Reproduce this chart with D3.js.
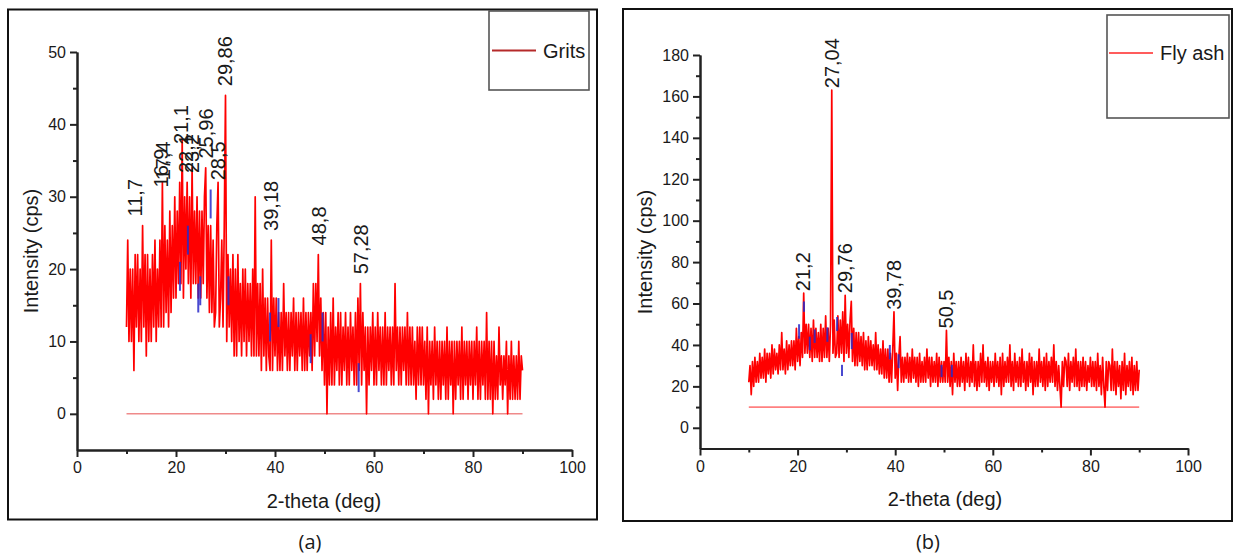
<!DOCTYPE html>
<html><head><meta charset="utf-8">
<script src="https://cdn.jsdelivr.net/npm/d3@7/dist/d3.min.js"></script>
<style>
body{margin:0;background:#fff}
svg{display:block}
text{font-family:"Liberation Sans",Arial,sans-serif;fill:#1a1a1a}
</style>
</head><body>
<svg id="c" width="1234" height="555"></svg>
<script>
// 2-theta scan grid (deg)
const thetaStart = 10, thetaStep = 0.25;

// Grits intensities (cps), read every 0.25 deg from 10 to 90
const gritsCounts = [
12,24,10,20, 10,20,6,22, 12,22,10,20, 10,26,12,22, 8,22,10,20,
10,22,12,24, 10,20,12,24, 12,32,12,26, 14,24,12,28, 14,26,16,30,
16,28,18,32, 18,38,16,30, 20,32,18,30, 16,34,18,28, 18,30,16,28,
16,28,18,30, 34,16,26,14, 26,14,24,12, 14,26,32,12, 16,24,12,26,
44,10,22,12, 20,10,22,8, 20,8,22,10, 18,8,20,10, 20,8,18,10,
18,8,20,8, 30,8,18,8, 18,6,20,8, 16,6,16,8, 6,24,6,16,
8,16,6,14, 6,14,6,18, 8,14,6,14, 6,14,8,16, 6,14,6,14,
8,14,6,16, 6,14,6,14, 8,14,6,18, 8,18,10,22, 8,16,6,14,
4,14,0,12, 4,14,4,16, 4,12,6,14, 4,14,4,12, 6,14,4,12,
4,14,6,12, 4,14,4,16, 6,18,4,14, 6,12,0,12, 4,12,6,14,
4,12,4,14, 6,12,4,12, 4,14,4,12, 6,12,4,12, 4,18,6,12,
4,12,4,12, 6,12,4,14, 4,12,4,12, 4,10,2,12, 4,12,4,12,
4,10,2,12, 0,10,4,10, 2,12,4,10, 2,10,2,10, 4,10,2,12,
2,10,4,10, 0,10,2,10, 4,10,2,12, 2,10,4,10, 2,10,4,10,
2,10,4,12, 2,10,2,10, 4,10,2,14, 2,10,2,10, 0,10,2,8,
2,12,4,8, 2,8,4,10, 0,8,2,10, 2,8,2,8, 2,10,2,8,
6
];

// Fly ash intensities (cps), read every 0.25 deg from 10 to 90
const flyAshCounts = [
22,30,16,32, 20,34,22,32, 22,36,24,34, 24,38,22,36, 26,36,24,40,
26,38,28,36, 26,40,28,46, 28,38,26,42, 28,40,30,42, 30,42,28,48,
32,44,30,46, 34,65,36,50, 36,50,34,48, 32,52,34,48, 34,46,32,50,
32,48,34,54, 34,48,32,50, 163,36,52,34, 36,54,34,52, 36,56,32,64,
36,50,34,52, 61,32,48,30, 46,30,46,32, 44,30,46,28, 42,28,44,30,
42,30,40,28, 46,28,40,26, 38,26,42,24, 38,24,38,22, 36,22,38,56,
24,36,18,34, 44,22,34,22, 34,24,36,22, 34,22,38,24, 34,22,34,20,
36,22,32,22, 34,22,38,24, 34,20,34,22, 32,22,36,20, 34,22,32,22,
32,22,47,22, 34,20,32,16, 36,22,32,20, 32,20,34,22, 32,18,36,22,
34,20,32,22, 40,20,32,18, 32,20,36,22, 40,22,32,20, 34,18,32,22,
32,20,36,22, 32,20,34,16, 36,20,32,22, 34,22,40,20, 32,18,36,22,
32,20,34,20, 38,22,32,18, 32,20,36,22, 34,16,32,20, 32,20,38,22,
32,20,34,18, 36,20,32,22, 34,22,40,20, 32,18,30,20, 10,32,20,34,
32,20,36,18, 32,22,34,20, 38,20,32,18, 32,20,34,20, 32,18,30,22,
34,20,32,20, 32,18,36,20, 30,16,34,20, 10,32,18,32, 30,18,38,18,
32,16,32,20, 30,14,32,18, 36,16,30,20, 32,18,34,16, 30,18,32,18,
28
];

// Labelled peaks
const gritsPeakPos = [11.7, 16.9, 17.4, 21.1, 22.1, 23.2, 25.96, 28.5, 29.86, 39.18, 48.8, 57.28];
const gritsPeakVal = [27, 31, 32, 37, 33, 33, 35, 32, 45, 25, 23, 19];
const gritsPeakLbl = ["11,7","16,9","17,4","21,1","22,1","23,2","25,96","28,5","29,86","39,18","48,8","57,28"];

const flyPeakPos = [21.2, 27.04, 29.76, 39.78, 50.5];
const flyPeakVal = [65, 163, 64, 56, 47];
const flyPeakLbl = ["21,2","27,04","29,76","39,78","50,5"];

// Blue reference sticks
const gritsMarkPos = [20.8, 22.4, 24.5, 24.9, 27.0, 30.6, 39.0, 40.7, 47.2, 49.6, 56.9];
const gritsMarkLo  = [17, 22, 14, 15, 27, 15, 10, 12, 7, 10, 3];
const gritsMarkHi  = [21, 26, 18, 19, 31, 19, 14, 16, 11, 14, 7];
const flyMarkPos = [20.3, 21.3, 22.5, 23.5, 26.1, 28.1, 29.1, 31.1, 38.9, 40.7, 49.5, 51.6];
const flyMarkLo  = [43, 56, 37.5, 41, 41.5, 46.7, 25, 38, 33, 28.8, 24.5, 24.5];
const flyMarkHi  = [50, 61, 44, 47.5, 48.5, 53.5, 30.4, 45.8, 40, 35.5, 30.4, 30.4];

// Axis ticks
const xTicks = [0, 20, 40, 60, 80, 100];
const xMinor = [10, 30, 50, 70, 90];
const gritsYTicks = [0, 10, 20, 30, 40, 50];
const gritsYMinor = [5, 15, 25, 35, 45];
const flyYTicks = [0, 20, 40, 60, 80, 100, 120, 140, 160, 180];
const flyYMinor = [10, 30, 50, 70, 90, 110, 130, 150, 170];

const svg = d3.select("#c");
svg.append("rect").attr("width",1234).attr("height",555).attr("fill","#fff");

function panel(cfg){
  const g = svg.append("g");
  g.append("rect").attr("x",cfg.frame[0]).attr("y",cfg.frame[1])
    .attr("width",cfg.frame[2]).attr("height",cfg.frame[3])
    .attr("fill","none").attr("stroke","#111").attr("stroke-width",2);

  const x = d3.scaleLinear().domain([0,100]).range(cfg.xr);
  const y = d3.scaleLinear().domain(cfg.yd).range(cfg.yr);

  g.append("line").attr("x1",x(10)).attr("x2",x(90)).attr("y1",y(cfg.base)).attr("y2",y(cfg.base))
    .attr("stroke",cfg.baseColor).attr("stroke-width",1.6);

  const pts = cfg.data.map((v,i)=>[thetaStart+i*thetaStep, v]);
  g.append("path").datum(pts)
    .attr("d", d3.line().x(d=>x(d[0])).y(d=>y(d[1])))
    .attr("fill","none").attr("stroke","#ff0000").attr("stroke-width",1.7)
    .attr("stroke-linejoin","round");

  g.selectAll(".mk").data(cfg.markPos).join("line")
    .attr("x1",d=>x(d)).attr("x2",d=>x(d))
    .attr("y1",(d,i)=>y(cfg.markLo[i])).attr("y2",(d,i)=>y(cfg.markHi[i]))
    .attr("stroke","#2a2ac8").attr("stroke-width",2).attr("opacity",0.85);

  const axStyle = s => {
    s.select(".domain").attr("stroke","#222").attr("stroke-width",2);
    s.selectAll(".tick line").attr("stroke","#222").attr("stroke-width",2);
    s.selectAll(".tick text").style("font-size","16px").attr("fill","#1a1a1a");
  };
  const x0 = cfg.xr[0], yBot = cfg.yr[0];
  g.append("g").attr("transform",`translate(${x0},0)`)
    .call(d3.axisLeft(y).tickValues(cfg.yMinor).tickSize(4).tickFormat("").tickSizeOuter(0))
    .call(axStyle);
  g.append("g").attr("transform",`translate(${x0},0)`)
    .call(d3.axisLeft(y).tickValues(cfg.yTicks).tickSize(7).tickPadding(4).tickSizeOuter(0))
    .call(axStyle);
  g.append("g").attr("transform",`translate(0,${yBot})`)
    .call(d3.axisBottom(x).tickValues(xMinor).tickSize(4).tickFormat("").tickSizeOuter(0))
    .call(axStyle);
  g.append("g").attr("transform",`translate(0,${yBot})`)
    .call(d3.axisBottom(x).tickValues(xTicks).tickSize(7).tickPadding(5).tickSizeOuter(0))
    .call(axStyle);

  g.selectAll(".pk").data(cfg.peakPos).join("text")
    .attr("transform",(d,i)=>`translate(${x(d)},${y(cfg.peakVal[i])-2}) rotate(-90)`)
    .attr("dominant-baseline","central")
    .style("font-size","20px")
    .text((d,i)=>cfg.peakLbl[i]);

  g.append("text").attr("transform",`translate(${cfg.yTitle[0]},${cfg.yTitle[1]}) rotate(-90)`)
    .attr("text-anchor","middle").attr("dominant-baseline","central")
    .style("font-size","20px").text("Intensity (cps)");
  g.append("text").attr("x",cfg.xTitle[0]).attr("y",cfg.xTitle[1])
    .attr("text-anchor","middle").attr("dominant-baseline","central")
    .style("font-size","20px").text("2-theta (deg)");

  const L = cfg.legend;
  g.append("rect").attr("x",L.box[0]).attr("y",L.box[1]).attr("width",L.box[2]).attr("height",L.box[3])
    .attr("fill","#fff").attr("stroke","#555").attr("stroke-width",1.6);
  g.append("line").attr("x1",L.line[0]).attr("x2",L.line[1]).attr("y1",L.line[2]).attr("y2",L.line[2])
    .attr("stroke",L.color).attr("stroke-width",2);
  g.append("text").attr("x",L.text[0]).attr("y",L.text[1]).attr("dominant-baseline","central")
    .style("font-size","20px").text(L.label);

  svg.append("text").attr("x",cfg.cap[0]).attr("y",cfg.cap[1]).attr("text-anchor","middle")
    .attr("dominant-baseline","central").style("font-family","'Open Sans', Lato, sans-serif")
    .style("font-size","20px").text(cfg.cap[2]);
}

panel({
  frame:[8,9.5,589,510],
  xr:[77,572], yd:[-5,50], yr:[450,52],
  base:0, baseColor:"#ef8a8a",
  data:gritsCounts,
  markPos:gritsMarkPos, markLo:gritsMarkLo, markHi:gritsMarkHi,
  yTicks:gritsYTicks, yMinor:gritsYMinor,
  peakPos:gritsPeakPos, peakVal:gritsPeakVal, peakLbl:gritsPeakLbl,
  yTitle:[31,251], xTitle:[324,501],
  legend:{box:[489,11,100,79], line:[492,536,50.5], text:[543,50.5], color:"#b52a2a", label:"Grits"},
  cap:[310,541,"(a)"]
});

panel({
  frame:[623,9,609,512],
  xr:[700,1188], yd:[-10,180], yr:[448.5,55],
  base:10, baseColor:"#ff8080",
  data:flyAshCounts,
  markPos:flyMarkPos, markLo:flyMarkLo, markHi:flyMarkHi,
  yTicks:flyYTicks, yMinor:flyYMinor,
  peakPos:flyPeakPos, peakVal:flyPeakVal, peakLbl:flyPeakLbl,
  yTitle:[645,252], xTitle:[945,499],
  legend:{box:[1107,15,122,103], line:[1109,1153,53], text:[1160,53], color:"#ff5c5c", label:"Fly ash"},
  cap:[928,541,"(b)"]
});
</script>
</body></html>
